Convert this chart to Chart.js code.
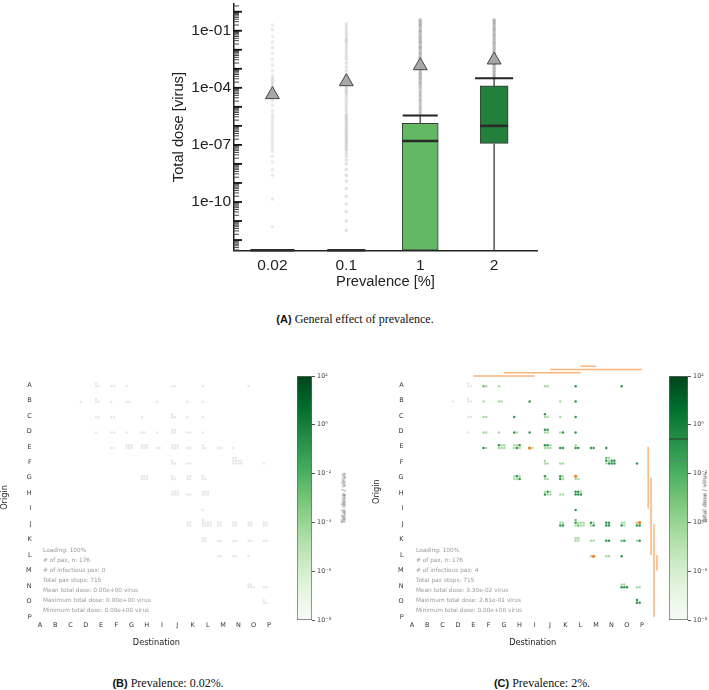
<!DOCTYPE html>
<html><head><meta charset="utf-8">
<script src="https://cdn.jsdelivr.net/npm/chart.js@4.4.1/dist/chart.umd.min.js"></script>
<style>
body{margin:0;width:709px;height:690px;background:#fff;position:relative;overflow:hidden;}
canvas{position:absolute;}
.cap{position:absolute;font-family:"Liberation Serif","DejaVu Serif",serif;font-size:12px;color:#111;white-space:nowrap;transform:translate(-50%,-50%);}
.cap b{font-family:"Liberation Sans",Arial,sans-serif;font-weight:bold;font-size:11px;}
.note{position:absolute;font-family:"DejaVu Sans",sans-serif;font-size:5.8px;line-height:10px;color:#9a9a9a;white-space:nowrap;}
.cbl{position:absolute;font-family:"DejaVu Sans",sans-serif;font-size:6px;color:#444;white-space:nowrap;transform:translate(-50%,-50%) rotate(-90deg);}
</style></head><body>
<canvas id="cA" width="400" height="300" style="left:150px;top:0px"></canvas>
<canvas id="cB" width="290" height="310" style="left:0px;top:355px"></canvas>
<canvas id="cbB" width="60" height="270" style="left:290px;top:360px"></canvas>
<canvas id="cC" width="290" height="310" style="left:372px;top:355px"></canvas>
<canvas id="cbC" width="49" height="270" style="left:660px;top:360px"></canvas>

<div class="cbl" style="left:343px;top:498px">Total dose / virus</div>
<div class="cbl" style="left:704px;top:498px">Total dose / virus</div>

<div class="note" style="left:43px;top:545px">Loading: 100%<br># of pax, n: 176<br># of infectious pax: 0<br>Total pax stops: 715<br>Mean total dose: 0.00e+00 virus<br>Maximum total dose: 0.00e+00 virus<br>Minimum total dose: 0.00e+00 virus</div>
<div class="note" style="left:416px;top:545px">Loading: 100%<br># of pax, n: 176<br># of infectious pax: 4<br>Total pax stops: 715<br>Mean total dose: 3.30e-02 virus<br>Maximum total dose: 2.61e-01 virus<br>Minimum total dose: 0.00e+00 virus</div>

<div class="cap" style="left:355px;top:319px"><b>(A)</b> General effect of prevalence.</div>
<div class="cap" style="left:168px;top:683px"><b>(B)</b> Prevalence: 0.02%.</div>
<div class="cap" style="left:542px;top:683px"><b>(C)</b> Prevalence: 2%.</div>

<script>
// ---------------- Panel A data ----------------
const prevalenceLabels = ['0.02', '0.1', '1', '2'];
const ZERO = 2.9e-13;               // a dose of 0 sits on the floor of the log axis
const boxQ1       = [ZERO, ZERO, ZERO,    1.2e-7];
const boxMedian   = [ZERO, ZERO, 1.6e-7,  1.0e-6];
const boxQ3       = [ZERO, ZERO, 1.35e-6, 1.26e-4];
const whiskerLow  = [ZERO, ZERO, ZERO,    ZERO];
const whiskerHigh = [ZERO, ZERO, 3.5e-6,  3.2e-4];
const meanDose    = [4.4e-5, 2.1e-4, 1.45e-3, 2.9e-3];
// outlier doses, as log10(virus)
const outliersLog10_002 = [-0.7,-0.95,-1.3,-1.6,-1.9,-2.2,-2.5,-2.8,-3.1,-3.35,-3.5,-3.6,-3.7,-3.8,-3.9,-4.0,-4.1,-4.2,-4.35,-4.5,-4.65,-4.9,-5.2,-5.4,-5.55,-5.7,-5.85,-6.0,-6.15,-6.3,-6.45,-6.6,-6.75,-6.9,-7.05,-7.2,-7.35,-7.6,-7.9,-8.3,-8.6,-9.85,-11.3];
const outliersLog10_01 = [-0.65,-0.8,-0.95,-1.1,-1.25,-1.4,-1.5,-1.6,-1.75,-1.9,-2.05,-2.2,-2.35,-2.5,-2.7,-2.9,-3.1,-3.3,-3.45,-3.55,-3.65,-3.75,-3.85,-3.95,-4.05,-4.15,-4.25,-4.35,-4.5,-4.65,-4.8,-4.95,-5.1,-5.25,-5.4,-5.5,-5.6,-5.7,-5.8,-5.9,-6.0,-6.1,-6.2,-6.3,-6.4,-6.5,-6.6,-6.7,-6.8,-6.9,-7.0,-7.1,-7.2,-7.3,-7.45,-7.6,-7.8,-8.0,-8.3,-8.6,-8.9,-9.3,-9.7,-10.1,-10.5,-11.0,-11.5];
const outliersLog10_1 = [-0.42,-0.5,-0.61,-0.7,-0.78,-0.9,-1.0,-1.08,-1.2,-1.31,-1.4,-1.52,-1.6,-1.7,-1.83,-1.9,-2.0,-2.12,-2.2,-2.3,-2.41,-2.5,-2.62,-2.7,-2.8,-2.93,-3.0,-3.1,-3.22,-3.3,-3.41,-3.5,-3.6,-3.72,-3.8,-3.92,-4.05,-4.2,-4.33,-4.45,-4.6,-4.72,-4.85,-4.98,-5.1,-5.22,-5.35];
const outliersLog10_2 = [-0.42,-0.51,-0.6,-0.69,-0.8,-0.9,-0.98,-1.1,-1.2,-1.29,-1.4,-1.5,-1.61,-1.7,-1.8,-1.91,-2.0,-2.1,-2.2,-2.31,-2.4,-2.5,-2.6,-2.72,-2.8,-2.9,-3.0,-3.1,-3.2,-3.3,-3.4,-3.48];
const yTickValues = [1e-10, 1e-7, 1e-4, 1e-1];
const yTickLabels = ['1e-10', '1e-07', '1e-04', '1e-01'];

// ---------------- Panels B / C data ----------------
const LETTERS = ['A','B','C','D','E','F','G','H','I','J','K','L','M','N','O','P'];
const D = 0.1, M = 2e-3, L = 3e-5, Z = 0, X = -1;   // X = infectious passenger
// [origin, destination, total dose of each passenger on that trip] (prevalence 2%)
const tripsC = [
 ['A','E',[Z,Z,Z]],['A','F',[M,L]],['A','G',[L]],['A','J',[L,L]],['A','L',[D]],['A','O',[D]],
 ['B','D',[Z]],['B','E',[Z,Z,Z]],['B','F',[L]],['B','G',[L,L]],['B','I',[D]],['B','K',[L]],['B','L',[D]],
 ['C','E',[Z,Z]],['C','F',[L,L]],['C','H',[D]],['C','J',[D,L,L]],['C','K',[L]],['C','L',[D]],
 ['D','E',[Z]],['D','F',[L,L]],['D','G',[L]],['D','H',[D,L]],['D','I',[D]],['D','J',[D,D,L,L]],['D','K',[L,D]],['D','L',[D]],
 ['E','F',[D,L]],['E','G',[D,L,L,L,L,L]],['E','H',[L,L,D,L,D,L]],['E','I',[X,L]],['E','J',[D,D,L,L,L,L]],['E','K',[D,D]],['E','L',[L,D,D]],['E','M',[D,D]],['E','N',[D]],
 ['F','J',[L,L,L]],['F','K',[L,L]],['F','N',[M,L,D,L,D,D,L,D,D,D]],['F','P',[D]],
 ['G','H',[L,D,L,L,L,D]],['G','J',[D,L,L]],['G','K',[D,L,D,L]],['G','L',[X,L,L]],
 ['H','J',[L,D,L,D,L,L]],['H','K',[L,L]],['H','L',[D,D,L,D,D,D]],
 ['I','L',[D]],
 ['J','K',[L,L,D,D]],['J','L',[M,D,L,L,L,L,M,L,L]],['J','M',[D,L,L,D]],['J','N',[D,D,D,D]],['J','O',[L,L,D,L]],['J','P',[L,X,D,D]],
 ['K','L',[L,L,L,L]],['K','M',[L,L]],['K','N',[D,D]],['K','O',[M,D]],['K','P',[L,D]],
 ['L','M',[L,X]],['L','N',[L,L]],['L','O',[D]],
 ['N','O',[L,L,D,D,D]],['N','P',[L,L]],
 ['O','P',[D,D,D]]
];
// prevalence 0.02%: same trips, nobody infectious, every dose is 0
const tripsB = tripsC.map(([o, d, doses]) => [o, d, doses.map(() => 0)]);
const infectiousTripsC = [['E','I'],['G','L'],['J','P'],['L','M']];
const doseMaxC = 2.61e-1, doseMeanC = 3.30e-2;
const cbTickValues = [1e-8, 1e-6, 1e-4, 1e-2, 1, 1e2];
const cbTickLabels = ['10\u207B\u2078','10\u207B\u2076','10\u207B\u2074','10\u207B\u00B2','10\u2070','10\u00B2'];

// ---------------- helpers ----------------
const GREENS = ['#f7fcf5','#e5f5e0','#c7e9c0','#a1d99b','#74c476','#41ab5d','#238b45','#006d2c','#00441b'];
function hexRgb(h){return [1,3,5].map(i=>parseInt(h.slice(i,i+2),16));}
function greens(t){
  t = Math.max(0, Math.min(1, t)); const p = t*8; const i = Math.min(7, Math.floor(p)); const f = p - i;
  const a = hexRgb(GREENS[i]), b = hexRgb(GREENS[i+1]);
  return 'rgb(' + a.map((v,k)=>Math.round(v + (b[k]-v)*f)).join(',') + ')';
}
function doseColor(v){
  if (v < 0) return '#f47a1f';
  if (v === 0) return '#e4e9e4';
  return greens((Math.log10(v) + 8) / 10);
}
function baseOpts(){ return {responsive:false, animation:false, events:[], plugins:{legend:{display:false}, tooltip:{enabled:false}, title:{display:false}}}; }

// ---------------- Panel A ----------------
const yMinA = 2.75e-13, yMaxA = 2.7;
const yAllTicks = [];
for (let e = -13; e <= 0; e++) for (let m = 1; m <= 9; m++) { const v = m * Math.pow(10, e); if (v >= yMinA && v <= yMaxA) yAllTicks.push(v); }
const inwardTicks = {
  id:'inwardTicks',
  afterDatasetsDraw(chart){
    const s = chart.scales.y, ctx = chart.ctx, left = chart.chartArea.left;
    ctx.save();
    yAllTicks.forEach(v => {
      const e = Math.log10(v), major = Math.abs(e - Math.round(e)) < 1e-6;
      const py = s.getPixelForValue(v);
      ctx.beginPath(); ctx.lineWidth = major ? 1.8 : 1; ctx.strokeStyle = major ? '#111' : '#444';
      ctx.moveTo(left, py); ctx.lineTo(left + (major ? 8 : 5), py); ctx.stroke();
    });
    ctx.restore();
  }
};
const dsA = [];
const outlierSets = [outliersLog10_002, outliersLog10_01, outliersLog10_1, outliersLog10_2];
const outlierAlpha = [0.16, 0.22, 0.4, 0.4];
outlierSets.forEach((arr, i) => dsA.push({type:'scatter', order:6, clip:false,
  data: arr.map(e => ({x:i, y:Math.pow(10, e)})),
  pointRadius:1.8, pointBorderWidth:0, backgroundColor:'rgba(125,125,125,' + outlierAlpha[i] + ')'}));
const boxWidth = [40, 36, 36, 28];
const boxFill = ['#63b963', '#63b963', '#63b963', '#22803a'];
prevalenceLabels.forEach((_, i) => {
  dsA.push({type:'bar', order:4, grouped:false, clip:false, barThickness:boxWidth[i],
    data:[{x:i, y:[boxQ1[i], boxQ3[i]]}], backgroundColor:boxFill[i], borderColor:'#3a3a3a', borderWidth:1, borderSkipped:false});
  dsA.push({type:'line', order:3, clip:false, data:[{x:i, y:whiskerLow[i]}, {x:i, y:boxQ1[i]}], borderColor:'#555', borderWidth:1.5, pointRadius:0});
  dsA.push({type:'line', order:3, clip:false, data:[{x:i, y:boxQ3[i]}, {x:i, y:whiskerHigh[i]}], borderColor:'#555', borderWidth:1.5, pointRadius:0});
});
const capHalf = [0, 0, 17.5, 19];
dsA.push({type:'scatter', order:2, clip:false,
  data: prevalenceLabels.map((_, i) => ({x:i, y:whiskerHigh[i]})).filter(p => p.y > ZERO),
  pointStyle:'line', pointRadius:capHalf.filter((_, i) => whiskerHigh[i] > ZERO), borderColor:'#222', borderWidth:2});
const medHalf = [22, 19, 18, 14];
dsA.push({type:'scatter', order:2, clip:false,
  data: prevalenceLabels.map((_, i) => ({x:i, y:boxMedian[i]})),
  pointStyle:'line', pointRadius:medHalf, borderColor:'#2b2b2b', borderWidth:2.6});
dsA.push({type:'scatter', order:1, clip:false,
  data: prevalenceLabels.map((_, i) => ({x:i, y:meanDose[i]})),
  pointStyle:'triangle', pointRadius:8, backgroundColor:'#a8a8a8', borderColor:'#444', borderWidth:1});

new Chart(document.getElementById('cA'), {
  type:'scatter',
  data:{datasets:dsA},
  options:{...baseOpts(),
    layout:{autoPadding:false, padding:{left:0, top:0, right:13, bottom:0}},
    scales:{
      x:{type:'linear', min:-0.52, max:3.58, offset:false,
        afterBuildTicks:s => { s.ticks = prevalenceLabels.map((_, i) => ({value:i})); },
        afterFit:s => { s.height = 49.3; },
        ticks:{callback:(v, i) => prevalenceLabels[i], font:{family:'"Liberation Sans", Arial, sans-serif', size:15.5}, color:'#222', padding:6, autoSkip:false, maxRotation:0},
        grid:{display:true, drawOnChartArea:false, drawTicks:false, offset:false},
        border:{display:true, color:'#222', width:1.5},
        title:{display:true, text:'Prevalence [%]', font:{family:'"Liberation Sans", Arial, sans-serif', size:14.7}, color:'#222', padding:{top:0, bottom:9.6}}},
      y:{type:'logarithmic', min:yMinA, max:yMaxA,
        afterBuildTicks:s => { s.ticks = yTickValues.map(v => ({value:v})); },
        afterFit:s => { s.width = 84; },
        ticks:{autoSkip:false, padding:3, color:'#222', font:{family:'"Liberation Sans", Arial, sans-serif', size:15.5, lineHeight:'1px'},
          callback:(v, i) => yTickLabels[i]},
        grid:{display:true, drawOnChartArea:false, drawTicks:false},
        border:{display:true, color:'#222', width:1.5},
        title:{display:true, text:'Total dose [virus]', font:{family:'"Liberation Sans", Arial, sans-serif', size:14.7}, color:'#222', padding:{top:20, bottom:0}}}
    }
  },
  plugins:[inwardTicks]
});

// ---------------- Panels B / C ----------------
function dotData(trips){
  const pts = [], colors = [], radii = [];
  trips.forEach(([o, d, doses]) => {
    const n = doses.length;
    const nc = n <= 2 ? n : n <= 4 ? 2 : n <= 6 ? 3 : 4;
    const nr = Math.ceil(n / nc);
    const top = n - (nr - 1) * nc;
    doses.forEach((v, k) => {
      let r, c;
      if (k < top) { r = 0; c = k; } else { r = 1 + Math.floor((k - top) / nc); c = (k - top) % nc; }
      pts.push({x: LETTERS.indexOf(d) - 0.33 + c * 0.175, y: LETTERS.indexOf(o) + 0.08 - (nr - 1 - r) * 0.175});
      colors.push(doseColor(v));
      radii.push(v < 0 ? 1.6 : 1.25);
    });
  });
  return {pts, colors, radii};
}
const gridFont = {family:'"DejaVu Sans", sans-serif', size:6.5};
function makeGrid(id, trips, infectious, o){
  const dd = dotData(trips);
  const datasets = [{type:'scatter', order:1, data:dd.pts, backgroundColor:dd.colors, pointRadius:dd.radii, pointBorderWidth:0}];
  infectious.forEach(([from, to], i) => {
    const a = LETTERS.indexOf(from), b = LETTERS.indexOf(to);
    const laneY = -0.58 - i * 0.21, laneX = 15.4 + i * 0.19;
    datasets.push({type:'line', order:2, data:[{x:a, y:laneY}, {x:b, y:laneY}], borderColor:'rgba(252,172,105,0.9)', borderWidth:1.5, pointRadius:0});
    datasets.push({type:'line', order:2, data:[{x:laneX, y:a}, {x:laneX, y:b}], borderColor:'rgba(252,172,105,0.9)', borderWidth:1.5, pointRadius:0});
  });
  new Chart(document.getElementById(id), {
    type:'scatter',
    data:{datasets},
    options:{...baseOpts(),
      layout:{autoPadding:false, padding:{left:0, top:o.padTop, right:o.padRight, bottom:0}},
      scales:{
        x:{type:'linear', min:-0.35, max:o.xmax,
          afterBuildTicks:s => { s.ticks = LETTERS.map((_, i) => ({value:i})); },
          afterFit:s => { s.height = 45.7; },
          ticks:{callback:(v, i) => LETTERS[i], font:gridFont, color:'#333', padding:2.5, autoSkip:false, maxRotation:0},
          grid:{display:false, drawTicks:false}, border:{display:false},
          title:{display:true, text:'Destination', font:{family:'"DejaVu Sans", sans-serif', size:8.2}, color:'#222', padding:{top:0, bottom:17.2}}},
        y:{type:'linear', reverse:true, min:o.ymin, max:15.15,
          afterBuildTicks:s => { s.ticks = LETTERS.map((_, i) => ({value:i})); },
          afterFit:s => { s.width = o.yw; },
          ticks:{callback:(v, i) => LETTERS[i], font:gridFont, color:'#333', padding:3, autoSkip:false},
          grid:{display:false, drawTicks:false}, border:{display:false},
          title:{display:true, text:'Origin', font:{family:'"DejaVu Sans", sans-serif', size:8.2}, color:'#222', padding:{top:0, bottom:0}}}
      }
    }
  });
}
makeGrid('cB', tripsB, [], {padTop:20.7, padRight:12, xmax:15.6, ymin:-0.6, yw:34.7});
makeGrid('cC', tripsC, infectiousTripsC, {padTop:9, padRight:3.1, xmax:16.1, ymin:-1.35, yw:34.6});

// ---------------- colour bars ----------------
function makeColorbar(id, o, marks){
  const markPlugin = {id:'marks', afterDatasetsDraw(chart){
    const s = chart.scales.y, a = chart.chartArea, ctx = chart.ctx;
    ctx.save();
    marks.forEach(m => { const py = s.getPixelForValue(m.v); ctx.beginPath(); ctx.strokeStyle = m.c; ctx.lineWidth = m.w; ctx.moveTo(a.left, py); ctx.lineTo(a.right, py); ctx.stroke(); });
    ctx.restore();
  }};
  new Chart(document.getElementById(id), {
    type:'bar',
    data:{labels:['dose'], datasets:[{data:[[1e-8, 1e2]], borderColor:'#666', borderWidth:1, borderSkipped:false,
      barPercentage:1, categoryPercentage:1,
      backgroundColor:(ctx) => { const ch = ctx.chart, a = ch.chartArea; if (!a) return GREENS[4];
        const g = ch.ctx.createLinearGradient(0, a.bottom, 0, a.top); GREENS.forEach((c, i) => g.addColorStop(i / 8, c)); return g; }}]},
    options:{...baseOpts(),
      layout:{autoPadding:false, padding:{left:o.padLeft, top:16, right:0, bottom:10}},
      scales:{
        x:{display:false},
        y:{type:'logarithmic', position:'right', min:1e-8, max:1e2,
          afterBuildTicks:s => { s.ticks = cbTickValues.map(v => ({value:v})); },
          afterFit:s => { s.width = o.axisW; },
          ticks:{callback:(v, i) => cbTickLabels[i], font:{family:'"DejaVu Sans", sans-serif', size:6.5}, color:'#444', padding:2, autoSkip:false},
          grid:{display:true, drawOnChartArea:false, drawTicks:true, tickLength:3, color:'#555'},
          border:{display:false}}
      }
    },
    plugins:[markPlugin]
  });
}
makeColorbar('cbB', {padLeft:7, axisW:38}, []);
makeColorbar('cbC', {padLeft:9, axisW:21}, [{v:doseMaxC, c:'#2f3f33', w:1}, {v:doseMeanC, c:'rgba(120,120,120,0.7)', w:0.8}]);
</script>
</body></html>
